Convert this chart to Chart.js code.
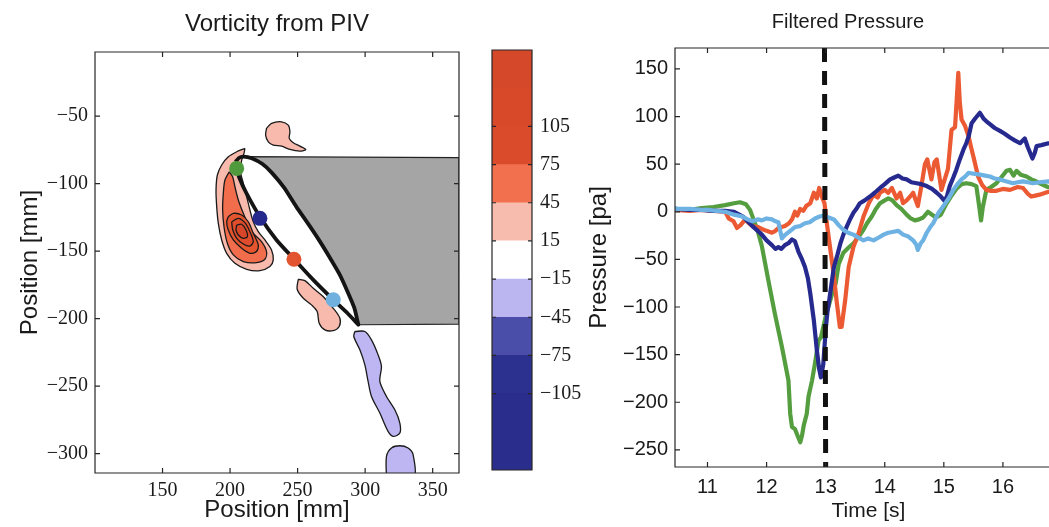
<!DOCTYPE html>
<html lang="en">
<head>
<meta charset="UTF-8">
<title>Vorticity from PIV / Filtered Pressure</title>
<script src="https://cdn.jsdelivr.net/npm/chart.js"></script>
<style>
  body { margin: 0; background: #fff; overflow: hidden; }
  #wrap { position: relative; width: 1049px; height: 527px; overflow: hidden; }
  canvas { position: absolute; top: 0; }
  #vort { left: 0; }
  #cbar { left: 480px; }
  #press { left: 580px; }
</style>
</head>
<body>
<div id="wrap">
  <canvas id="vort" width="470" height="527"></canvas>
  <canvas id="cbar" width="120" height="527"></canvas>
  <canvas id="press" width="536" height="527"></canvas>
</div>
<script>
// ---- left panel: vorticity contours (x, y in mm) ----
const vortXTicks = [150, 200, 250, 300, 350];
const vortYTicks = [-300, -250, -200, -150, -100, -50];

const airfoilUpper = [[204,-84],[206.5,-81],[210,-80],[216,-81.2],[224,-85.5],[231,-92],[240,-103],[249,-117],[258,-130],[266,-142],[274,-155],[281,-167],[287,-180],[292,-192],[295,-204.5]];
const airfoilLower = [[295,-204.5],[287,-196],[276.4,-186],[261.6,-171.3],[246.8,-155.3],[234.4,-141.7],[222.1,-124.5],[212.2,-107.2],[207,-96],[204.5,-88]];
const shadowCorners = [[369.5,-204],[369.5,-80.8]];

const probeX = [204.9, 222.1, 247.3, 276.4];
const probeY = [-88.7, -125.7, -156, -186];

const blobTopPink = [[227,-59.1],[230.7,-55.4],[238.1,-54.2],[243.1,-56.7],[244.3,-61.6],[243.8,-66.5],[246.8,-69.7],[251.7,-72.2],[256.1,-74.7],[251.7,-75.9],[244.3,-74.7],[238.1,-72.2],[232,-71.4],[228.3,-69],[226.3,-64.1]];
const blobLeadPink = [[211,-73.9],[204.9,-76.4],[198.7,-80.1],[193.8,-86.2],[190.6,-93.6],[189.6,-104.7],[190.1,-117],[191.3,-129.4],[193.8,-141.7],[197.5,-151.6],[203.6,-159],[212.3,-163.4],[222.1,-164.4],[229.5,-161.4],[232,-156.5],[230.7,-149.1],[225.8,-141.7],[220.9,-135.6],[217.2,-128.2],[214.7,-119.5],[212.3,-109.7],[209.8,-99.8],[207.8,-91.2],[208.6,-82.5],[210.3,-77.6]];
const blobLead45 = [[199.4,-91.2],[196.2,-97.3],[195,-107.2],[194.5,-119.5],[195.5,-131.9],[198,-144.2],[202.4,-152.8],[209.8,-157.7],[219.6,-158.5],[225.8,-156],[227,-150.3],[223.3,-142.9],[217.2,-136.8],[213.5,-130.6],[209.8,-122],[206.1,-112.1],[203.6,-102.3],[201.9,-94.9]];
const blobLead75 = [[198.7,-124.5],[202.4,-122],[208.6,-123.2],[213.5,-128.2],[217.2,-136.8],[220.9,-145.4],[219.6,-150.3],[214.7,-151.6],[208.6,-147.9],[202.4,-141.7],[198.7,-134.3],[197.5,-128.2]];
const blobLead105 = [[201.2,-128.2],[206.1,-125.7],[211,-128.9],[214.7,-135.6],[217.2,-142.9],[214.7,-146.2],[209.8,-144.7],[204.9,-140.5],[202,-134.3]];
const blobLead135 = [[204.9,-130.6],[208.6,-130.1],[211.8,-134.3],[212.8,-139.3],[209.8,-140.5],[206.1,-138],[204.4,-134.3]];
const blobTrailPink = [[250.5,-170.8],[255.4,-171.8],[261.6,-177.5],[268.9,-183.6],[276.4,-192.3],[281.3,-199.7],[280.8,-205.8],[276.4,-208.8],[270.2,-208.3],[266,-203.4],[264.5,-194.7],[260.3,-189.8],[254.2,-184.9],[249.7,-178.2]];
const blobWake = [[292.4,-209.5],[299.8,-209.5],[304.7,-215.7],[309.6,-226.8],[312.1,-235.4],[310.9,-246.5],[315.8,-257.6],[322,-267.5],[325.7,-277.3],[325.7,-284.7],[320.7,-287.2],[317,-283.5],[310.9,-269.9],[304.7,-257.6],[302.2,-246.5],[299.8,-234.2],[296.1,-223.1],[291.6,-213.2]];
const blobWake2 = [[315.8,-318],[315.8,-302],[319.5,-295.8],[325.7,-294.1],[331.8,-295.8],[335.5,-300.7],[336,-318]];

// ---- colour bar ----
const cbLevels = [-165, -135, -105, -75, -45, -15, 15, 45, 75, 105, 135, 165];
const cbTicks = [-105, -75, -45, -15, 15, 45, 75, 105];

// ---- right panel: filtered pressure, [time s, pressure pa] ----
const pressXTicks = [11, 12, 13, 14, 15, 16];
const pressYTicks = [-250, -200, -150, -100, -50, 0, 50, 100, 150];
const markerTime = [[12.98, 172], [13.0, -268]];

const greenP = [[10.45,3],[10.7,2],[10.9,4],[11.1,5],[11.3,7],[11.45,9],[11.55,10],[11.65,8],[11.72,2],[11.78,-8],[11.85,-20],[11.92,-36],[12.03,-72],[12.14,-107],[12.26,-142],[12.37,-177],[12.4,-212],[12.43,-226],[12.48,-228],[12.53,-236],[12.57,-242],[12.6,-235],[12.63,-224],[12.68,-212],[12.71,-194],[12.77,-177],[12.82,-159],[12.88,-135],[12.92,-132],[13.0,-110],[13.1,-88],[13.17,-75],[13.22,-55],[13.3,-43],[13.38,-38],[13.47,-33],[13.55,-27],[13.64,-19],[13.7,-12],[13.78,-5],[13.85,3],[13.92,9],[14.0,12],[14.06,14],[14.13,12],[14.2,7],[14.28,3],[14.37,-3],[14.44,-7],[14.51,-9],[14.58,-8],[14.65,-6],[14.73,0],[14.8,-3],[14.87,-6],[14.95,-3],[15.04,8],[15.12,16],[15.21,24],[15.3,29],[15.38,30],[15.47,29],[15.55,27],[15.6,5],[15.63,-9],[15.66,5],[15.72,23],[15.8,26],[15.89,30],[15.97,36],[16.06,43],[16.12,44],[16.18,38],[16.23,43],[16.3,39],[16.4,37],[16.48,34],[16.56,32],[16.65,29],[16.76,26],[16.9,25]];
const navyP = [[10.45,3],[10.7,2],[10.9,2],[11.1,1],[11.3,1],[11.45,0],[11.6,-5],[11.76,-15],[11.85,-20],[11.92,-24],[12.0,-30],[12.09,-35],[12.15,-39],[12.2,-37],[12.25,-39],[12.31,-35],[12.37,-33],[12.43,-29],[12.48,-31],[12.54,-42],[12.6,-50],[12.65,-58],[12.7,-70],[12.74,-86],[12.8,-114],[12.85,-145],[12.89,-165],[12.92,-174],[12.96,-160],[13.0,-124],[13.03,-105],[13.06,-93],[13.1,-75],[13.14,-58],[13.2,-45],[13.25,-33],[13.3,-24],[13.36,-15],[13.42,-7],[13.47,-1],[13.53,4],[13.58,9],[13.66,12],[13.75,16],[13.83,20],[13.92,25],[14.0,29],[14.09,34],[14.16,36],[14.23,38],[14.3,35],[14.37,34],[14.45,31],[14.54,30],[14.62,29],[14.71,27],[14.8,24],[14.88,20],[14.95,16],[15.02,11],[15.06,18],[15.1,27],[15.16,36],[15.21,44],[15.27,55],[15.33,65],[15.38,72],[15.42,79],[15.47,93],[15.53,98],[15.61,104],[15.67,98],[15.72,95],[15.78,92],[15.86,88],[15.95,85],[16.03,82],[16.12,78],[16.2,75],[16.29,72],[16.37,77],[16.42,68],[16.46,62],[16.5,56],[16.54,62],[16.57,69],[16.65,70],[16.77,72],[16.9,70]];
const redP = [[10.45,2],[10.7,1],[10.9,2],[11.1,1],[11.3,0],[11.36,-7],[11.44,-10],[11.5,-17],[11.56,-14],[11.64,-8],[11.7,-12],[11.76,-15],[11.85,-16],[11.92,-18],[12.0,-20],[12.09,-22],[12.15,-20],[12.2,-17],[12.31,-15],[12.38,-12],[12.43,-8],[12.48,0],[12.52,-4],[12.57,3],[12.62,1],[12.67,6],[12.74,9],[12.8,20],[12.85,14],[12.89,25],[12.94,15],[12.98,9],[13.02,-12],[13.08,-40],[13.14,-68],[13.19,-96],[13.24,-121],[13.27,-121],[13.33,-93],[13.39,-58],[13.47,-37],[13.56,-22],[13.64,-5],[13.73,9],[13.81,18],[13.88,15],[13.92,20],[14.0,23],[14.06,20],[14.12,25],[14.2,14],[14.26,20],[14.31,9],[14.37,12],[14.43,16],[14.48,20],[14.56,6],[14.62,27],[14.68,50],[14.72,55],[14.79,34],[14.84,52],[14.88,55],[14.93,35],[14.96,23],[15.02,35],[15.07,45],[15.13,86],[15.19,89],[15.22,120],[15.245,146],[15.27,115],[15.3,97],[15.36,90],[15.42,79],[15.46,68],[15.5,58],[15.58,37],[15.65,28],[15.72,23],[15.8,22],[15.89,22],[16.0,24],[16.12,23],[16.25,26],[16.34,25],[16.42,19],[16.48,16],[16.55,17],[16.62,18],[16.77,21],[16.9,22]];
const skyP = [[10.45,3],[10.7,3],[10.9,2],[11.02,2],[11.15,1],[11.3,0],[11.45,-3],[11.59,-5],[11.68,-8],[11.76,-10],[11.85,-8],[11.92,-9],[12.0,-7],[12.09,-8],[12.15,-10],[12.2,-11],[12.26,-28],[12.3,-25],[12.34,-23],[12.4,-20],[12.48,-16],[12.57,-15],[12.65,-12],[12.73,-11],[12.82,-7],[12.9,-5],[12.97,-4],[13.05,-6],[13.14,-8],[13.22,-14],[13.3,-19],[13.38,-22],[13.47,-24],[13.55,-27],[13.64,-30],[13.72,-28],[13.81,-30],[13.9,-27],[13.98,-24],[14.06,-22],[14.15,-21],[14.23,-20],[14.31,-24],[14.4,-26],[14.48,-30],[14.53,-34],[14.56,-40],[14.61,-33],[14.65,-30],[14.71,-22],[14.77,-16],[14.82,-12],[14.9,-2],[14.99,6],[15.08,14],[15.16,23],[15.23,29],[15.3,34],[15.36,37],[15.42,41],[15.5,40],[15.61,39],[15.7,38],[15.78,37],[15.86,35],[15.95,34],[16.05,32],[16.17,30],[16.25,31],[16.34,32],[16.42,31],[16.51,30],[16.62,31],[16.77,32],[16.9,31]];

const SANS = "'Liberation Sans', Arial, Helvetica, sans-serif";
const SERIF = "'Liberation Serif', 'Times New Roman', serif";
Chart.defaults.color = '#1a1a1a';

const minus = v => (v < 0 ? '\u2212' + Math.abs(v) : String(v));
const xy = pts => pts.map(([x, y]) => ({x, y}));
const fixTicks = list => scale => { scale.ticks = list.map(v => ({value: v})); };

// matlab style box with inward tick marks
const boxTicks = {
  id: 'boxTicks',
  afterDatasetsDraw(chart, args, opts) {
    const {ctx, chartArea: a} = chart;
    const len = opts.len || 5;
    ctx.save();
    ctx.strokeStyle = '#262626';
    ctx.lineWidth = 1.2;
    ctx.beginPath();
    if (opts.xTicks) {
      const sx = chart.scales.x;
      sx.ticks.forEach(t => {
        const p = sx.getPixelForValue(t.value);
        ctx.moveTo(p, a.bottom); ctx.lineTo(p, a.bottom - len);
        ctx.moveTo(p, a.top); ctx.lineTo(p, a.top + len);
      });
    }
    const sy = chart.scales.y;
    sy.ticks.forEach(t => {
      const p = sy.getPixelForValue(t.value);
      ctx.moveTo(a.left, p); ctx.lineTo(a.left + len, p);
      ctx.moveTo(a.right, p); ctx.lineTo(a.right - len, p);
    });
    ctx.rect(a.left, a.top, a.right - a.left, a.bottom - a.top);
    ctx.stroke();
    ctx.restore();
  }
};

function blob(pts, color) {
  return {
    data: xy(pts.concat([pts[0]])),
    fill: 'shape',
    backgroundColor: color,
    borderColor: '#1a1a1a',
    borderWidth: 1.3,
    pointRadius: 0,
    tension: 0.3
  };
}

// ---- left chart ----
const shadow = airfoilUpper.slice(2).concat(shadowCorners);
new Chart(document.getElementById('vort'), {
  type: 'line',
  data: {
    datasets: [
      {
        data: probeX.map((x, i) => ({x, y: probeY[i]})),
        showLine: false, fill: false,
        pointRadius: 7.5, pointBorderWidth: 0,
        pointBackgroundColor: ['#4e9a3c', '#25298c', '#e2532f', '#6fb0df']
      },
      {
        data: xy(airfoilUpper.concat(airfoilLower)),
        fill: false, borderColor: '#141414', borderWidth: 3.8,
        pointRadius: 0, tension: 0.2, borderJoinStyle: 'round'
      },
      {
        data: xy(shadow.concat([shadow[0]])),
        fill: 'shape', backgroundColor: '#a5a5a5',
        borderColor: '#222', borderWidth: 1.2, pointRadius: 0, tension: 0
      },
      blob(blobLead135, '#d8472a'),
      blob(blobLead105, '#df4d2c'),
      blob(blobLead75, '#e5562f'),
      blob(blobLead45, '#f16d4c'),
      blob(blobLeadPink, '#f8baac'),
      blob(blobTopPink, '#f8baac'),
      blob(blobTrailPink, '#f8baac'),
      blob(blobWake, '#bdb6f2'),
      blob(blobWake2, '#bdb6f2')
    ]
  },
  options: {
    responsive: false, animation: false, devicePixelRatio: 1,
    layout: {padding: {left: 0, right: 11, top: 0, bottom: 0}},
    plugins: {
      legend: {display: false},
      tooltip: {enabled: false},
      title: {
        display: true, text: 'Vorticity from PIV', fullSize: false,
        font: {family: SANS, size: 24, weight: 'normal'},
        padding: {top: 9.6, bottom: 13.6}
      },
      boxTicks: {len: 5, xTicks: true}
    },
    scales: {
      x: {
        type: 'linear', min: 100, max: 369.5,
        grid: {display: false, drawTicks: false}, border: {display: false},
        afterBuildTicks: fixTicks(vortXTicks),
        afterFit: s => { s.height = 54; },
        ticks: {font: {family: SERIF, size: 20}, padding: 6, autoSkip: false, maxRotation: 0, callback: minus},
        title: {display: true, text: 'Position [mm]', font: {family: SANS, size: 24}, padding: {top: 0, bottom: 2}}
      },
      y: {
        type: 'linear', min: -314.3, max: -2.5,
        grid: {display: false, drawTicks: false}, border: {display: false},
        afterBuildTicks: fixTicks(vortYTicks),
        afterFit: s => { s.width = 95; },
        ticks: {font: {family: SERIF, size: 20}, padding: 7, autoSkip: false, callback: minus},
        title: {display: true, text: 'Position [mm]', font: {family: SANS, size: 24}, padding: {top: 16, bottom: 0}}
      }
    }
  },
  plugins: [boxTicks]
});

// ---- colour bar ----
const cbColors = ['#2a2d8b', '#2a2d8b', '#2c308e', '#4b4ea8', '#bcb6f0', '#ffffff', '#f8bcae', '#f3704e', '#da4b2b', '#d8492a', '#d6482a'];
new Chart(document.getElementById('cbar'), {
  type: 'bar',
  data: {
    labels: ['w'],
    datasets: cbLevels.slice(0, -1).map((lo, i) => ({
      data: [[lo, cbLevels[i + 1]]],
      backgroundColor: cbColors[i],
      borderWidth: 0, grouped: false,
      barPercentage: 1, categoryPercentage: 1
    }))
  },
  options: {
    responsive: false, animation: false, devicePixelRatio: 1,
    layout: {padding: {left: 12, right: 0, top: 50, bottom: 57}},
    plugins: {legend: {display: false}, tooltip: {enabled: false}, boxTicks: {len: 4, xTicks: false}},
    scales: {
      x: {display: false},
      y: {
        position: 'right', min: -165, max: 165,
        grid: {display: false, drawTicks: false}, border: {display: false},
        afterBuildTicks: fixTicks(cbTicks),
        afterFit: s => { s.width = 68; },
        ticks: {font: {family: SERIF, size: 20}, padding: 8, autoSkip: false, callback: minus}
      }
    }
  },
  plugins: [boxTicks]
});

// ---- right chart ----
const line = (pts, color) => ({
  data: xy(pts), fill: false, borderColor: color, borderWidth: 4.2,
  pointRadius: 0, tension: 0, borderJoinStyle: 'round', borderCapStyle: 'round'
});
new Chart(document.getElementById('press'), {
  type: 'line',
  data: {
    datasets: [
      {
        data: xy(markerTime), fill: false, borderColor: '#111', borderWidth: 5,
        borderDash: [14, 9], pointRadius: 0
      },
      line(skyP, '#6db2e3'),
      line(navyP, '#262a8e'),
      line(redP, '#ec5a33'),
      line(greenP, '#559e40')
    ]
  },
  options: {
    responsive: false, animation: false, devicePixelRatio: 1,
    layout: {padding: 0},
    plugins: {
      legend: {display: false},
      tooltip: {enabled: false},
      title: {
        display: true, text: 'Filtered Pressure',
        font: {family: SANS, size: 20, weight: 'normal'},
        padding: {top: 10, bottom: 14}
      },
      boxTicks: {len: 5, xTicks: true}
    },
    scales: {
      x: {
        type: 'linear', min: 10.45, max: 17,
        grid: {display: false, drawTicks: false}, border: {display: false},
        afterBuildTicks: fixTicks(pressXTicks),
        afterFit: s => { s.height = 60; },
        ticks: {font: {family: SANS, size: 20}, padding: 8, autoSkip: false, maxRotation: 0},
        title: {display: true, text: 'Time [s]', font: {family: SANS, size: 21}, padding: {top: 0, bottom: 3.4}}
      },
      y: {
        type: 'linear', min: -268, max: 172,
        grid: {display: false, drawTicks: false}, border: {display: false},
        afterBuildTicks: fixTicks(pressYTicks),
        afterFit: s => { s.width = 95; },
        ticks: {font: {family: SANS, size: 20}, padding: 7, autoSkip: false, callback: minus},
        title: {display: true, text: 'Pressure [pa]', font: {family: SANS, size: 24}, padding: {top: 4.6, bottom: 0}}
      },
      yR: {
        position: 'right', display: true,
        grid: {display: false, drawTicks: false}, border: {display: false},
        ticks: {display: false},
        afterFit: s => { s.width = 54; }
      }
    }
  },
  plugins: [boxTicks]
});
</script>
</body>
</html>
